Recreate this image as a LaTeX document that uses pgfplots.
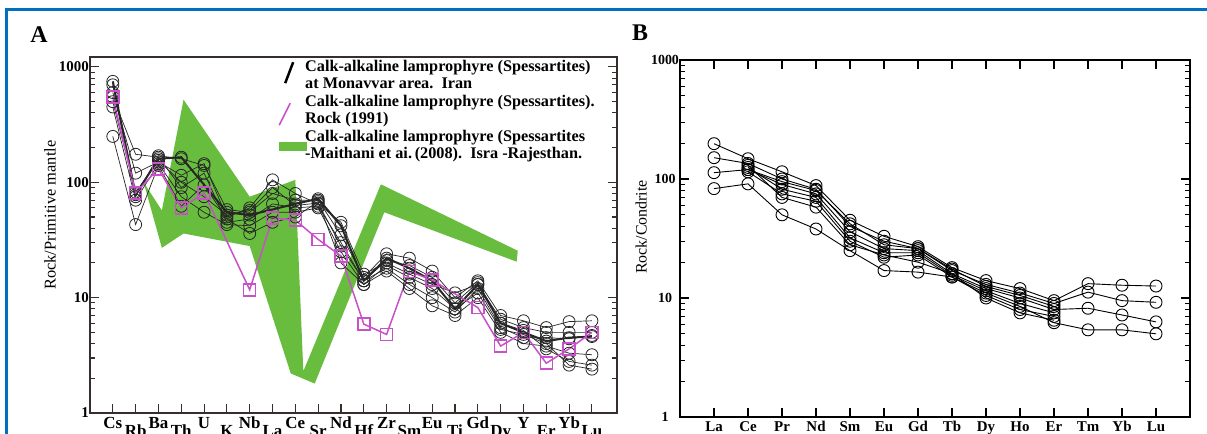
\documentclass[border=0pt]{standalone}
\usepackage{fontspec}
\setmainfont{Liberation Serif}
\usepackage{pgfplots}
\pgfplotsset{compat=1.18}
\definecolor{frameblue}{RGB}{0,112,192}
\definecolor{bandgreen}{RGB}{104,189,62}
\definecolor{rockmag}{RGB}{200,80,200}
\definecolor{axgray}{RGB}{55,45,45}
\begin{document}
\begin{tikzpicture}[x=1bp,y=1bp]
\useasboundingbox (0,0) rectangle (1207,434);
\clip (0,0) rectangle (1207,434);
\fill[white] (0,0) rectangle (1207,434);
\draw[frameblue, line width=3bp] (6,0) -- (6,424) -- (1210,424);
\node[font=\fontsize{24}{24}\selectfont\bfseries] at (39,399) {A};
\node[font=\fontsize{24}{24}\selectfont\bfseries] at (640,401) {B};

% ---------------- Panel A ----------------
\begin{axis}[
  at={(90bp,21bp)}, anchor=south west, scale only axis,
  width=527bp, height=356bp,
  ymode=log, ymin=1, ymax=1220, xmin=-1, xmax=22.1,
  xtick={0,...,21},
  xticklabels={Cs,\raisebox{-8bp}{Rb},Ba,\raisebox{-8bp}{Th},U,\raisebox{-8bp}{K},Nb,\raisebox{-8bp}{La},Ce,\raisebox{-8bp}{Sr},Nd,\raisebox{-8bp}{Hf},Zr,\raisebox{-8bp}{Sm},Eu,\raisebox{-8bp}{Ti},Gd,\raisebox{-8bp}{Dy},Y,\raisebox{-8bp}{Er},Yb,\raisebox{-8bp}{Lu}},
  xtick pos=bottom,
  ytick={1,10,100,1000}, yticklabels={1,10,100,1000},
  tick align=inside, major tick length=9bp, minor tick length=5bp,
  axis line style={axgray, line width=1.8bp},
  every tick/.style={axgray, line width=1.1bp},
  xticklabel style={font=\fontsize{17}{17}\selectfont\bfseries, anchor=base, yshift=-16bp, inner sep=0pt},
  yticklabel style={font=\fontsize{15}{15}\selectfont\bfseries, inner xsep=1bp},
  ylabel={Rock/Primitive mantle},
  ylabel style={at={(axis description cs:-0.076,0.556)}, anchor=center, font=\fontsize{16.5}{16.5}\selectfont},
  legend style={at={(axis description cs:0.3586,0.9937)}, anchor=north west, draw=none, fill=none,
    inner sep=0pt, row sep=0pt, column sep=0pt,
    nodes={inner sep=0pt, text height=12bp, text depth=5.5bp},
    font=\fontsize{16.3}{17.5}\selectfont\bfseries},
  legend cell align=left,
]
\addlegendimage{legend image code/.code={\path[draw=none,fill=none] (0,-8.75bp) -- (26bp,8.75bp); \draw[overlay, black, line width=2.5bp] (6bp,-15bp) -- (14bp,6bp);}}
\addlegendentry{Calk-alkaline lamprophyre (Spessartites)}
\addlegendimage{legend image code/.code={\path[draw=none,fill=none] (0,-8.75bp) -- (26bp,8.75bp);}}
\addlegendentry{at Monavvar area.\ \ Iran}
\addlegendimage{legend image code/.code={\path[draw=none,fill=none] (0,-8.75bp) -- (26bp,8.75bp); \draw[overlay, rockmag, line width=1.6bp] (0bp,-22bp) -- (11bp,0bp);}}
\addlegendentry{Calk-alkaline lamprophyre (Spessartites).}
\addlegendimage{legend image code/.code={\path[draw=none,fill=none] (0,-8.75bp) -- (26bp,8.75bp);}}
\addlegendentry{Rock (1991)}
\addlegendimage{legend image code/.code={\path[draw=none,fill=none] (0,-8.75bp) -- (26bp,8.75bp); \fill[overlay, bandgreen, draw=none] (0bp,-4bp) rectangle (28bp,-13bp);}}
\addlegendentry{Calk-alkaline lamprophyre (Spessartites}
\addlegendimage{legend image code/.code={\path[draw=none,fill=none] (0,-8.75bp) -- (26bp,8.75bp);}}
\addlegendentry{-Maithani et ai.\,(2008).\ \ Isra -Rajesthan.}

% green band (Maithani et al. 2008)
\addplot[fill=bandgreen, draw=none, forget plot] coordinates {
 (1.35,100) (2.15,57) (3.1,520) (6.0,75) (8.0,105) (8.35,2.3) (11.75,96) (17.75,25.5)
 (17.7,20.5) (11.9,55) (8.85,1.8) (7.8,2.2) (6.0,28) (3.1,36) (2.15,27)
} -- cycle;

% Monavvar samples
\pgfplotsset{blk/.style={black!85, line width=0.7bp, mark=o, mark size=6bp, mark options={line width=0.8bp, solid}, forget plot}}
\addplot[blk, line width=2bp] coordinates {(0,750)(1,78)(2,160)(3,165)(5,55)(6,52)(8,65)(9,72)(10,42)(11,14)(12,22)(13,18)(14,14)(15,8)(16,13)(17,6)(18,5)(19,4.2)(20,4.5)(21,4.6)};
\addplot[blk] coordinates {(0,700)(1,75)(2,170)(3,160)(4,140)(5,58)(6,55)(7,80)(8,70)(9,70)(10,35)(11,15)(12,24)(13,22)(14,17)(15,10)(16,14)(17,7)(18,6.3)(19,5.5)(20,6.2)(21,6.3)};
\addplot[blk] coordinates {(0,600)(1,120)(2,150)(3,115)(4,145)(5,50)(6,60)(7,105)(8,80)(9,65)(10,45)(11,16)(12,20)(13,16)(14,13)(15,11)(16,13)(17,6.5)(18,5.5)(19,5)(20,5)(21,5)};
\addplot[blk] coordinates {(0,550)(1,175)(2,165)(3,90)(4,120)(5,45)(6,48)(7,65)(8,60)(9,62)(10,30)(11,14)(12,18)(13,13)(14,10)(15,7.5)(16,12)(17,5.5)(18,4.5)(19,4.5)(20,4.4)(21,4.7)};
\addplot[blk] coordinates {(0,450)(1,70)(2,145)(3,75)(4,55)(5,43)(6,42)(7,55)(8,55)(9,60)(10,25)(11,13)(12,17)(13,12)(14,8.5)(15,7)(16,10)(17,5)(18,4)(19,3.8)(20,3.3)(21,3.2)};
\addplot[blk] coordinates {(0,250)(1,43)(2,140)(3,62)(4,95)(5,48)(6,36)(7,45)(8,50)(9,68)(10,20)(11,13)(12,19)(13,15)(14,12)(15,8)(16,11)(17,5.3)(18,4.8)(19,4)(20,2.6)(21,2.4)};
\addplot[blk] coordinates {(0,500)(1,82)(2,155)(3,100)(4,75)(5,52)(6,57)(7,90)(8,63)(9,66)(10,28)(11,14)(12,21)(13,19)(14,15)(15,9)(16,13.5)(17,6)(18,5.2)(19,3.6)(20,2.8)(21,2.6)};

% Rock (1991)
\addplot[rockmag, line width=1.5bp, mark=square, mark size=6bp, mark options={line width=1.5bp, solid}, forget plot] coordinates {
 (0,550)(1,81)(2,131)(3,60)(4,81)(6,11.7)(7,49)(8,47)(9,32)(10,23)(11,5.9)(12,4.8)(13,16.9)(14,14.2)(16,8.2)(17,3.8)(18,5.0)(19,2.7)(20,3.6)(21,5.0)};
\end{axis}

% ---------------- Panel B ----------------
\begin{axis}[
  at={(680bp,17bp)}, anchor=south west, scale only axis,
  width=510bp, height=357bp,
  ymode=log, ymin=1, ymax=1000, xmin=-1, xmax=14,
  xtick={0,...,13},
  xticklabels={La,Ce,Pr,Nd,Sm,Eu,Gd,Tb,Dy,Ho,Er,Tm,Yb,Lu},
  ytick={1,10,100,1000}, yticklabels={1,10,100,1000},
  tick align=inside, major tick length=9bp, minor tick length=5bp,
  axis line style={black, line width=1.8bp},
  every tick/.style={black, line width=1.1bp},
  xticklabel style={font=\fontsize{15}{15}\selectfont\bfseries, anchor=base, yshift=-15bp, inner sep=0pt},
  yticklabel style={font=\fontsize{14}{14}\selectfont\bfseries, anchor=center, xshift=-15bp},
  ylabel={Rock/Condrite},
  ylabel style={at={(axis description cs:-0.076,0.532)}, anchor=center, font=\fontsize{16}{16}\selectfont},
]
\pgfplotsset{ree/.style={black, line width=0.9bp, mark=o, mark size=6bp, mark options={line width=0.9bp, solid}}}
\addplot[ree] coordinates {(0,198)(1,148)(2,115)(3,88)(4,45)(5,33)(6,27)(7,18)(8,14)(9,12)(10,9.5)(11,13.2)(12,12.8)(13,12.6)};
\addplot[ree] coordinates {(0,151)(1,135)(2,100)(3,82)(4,40)(5,30)(6,26)(7,17)(8,13)(9,11)(10,9)(11,11.2)(12,9.5)(13,9.2)};
\addplot[ree] coordinates {(0,113)(1,120)(2,90)(3,75)(4,36)(5,26)(6,25)(7,16)(8,12)(9,10)(10,8)(11,8.2)(12,7.2)(13,6.3)};
\addplot[ree] coordinates {(0,83)(1,91)(2,50)(3,38)(4,25)(5,17)(6,16.5)(7,15)(8,11)(9,8.5)(10,6.2)(11,5.4)(12,5.4)(13,5.0)};
\addplot[ree] coordinates {(1,125)(2,82)(3,70)(4,32)(5,24)(6,24)(7,15.5)(8,11.5)(9,9)(10,7.5)};
\addplot[ree] coordinates {(1,115)(2,75)(3,65)(4,30)(5,22)(6,23)(7,15)(8,10.5)(9,8)(10,7)};
\addplot[ree] coordinates {(1,130)(2,70)(3,58)(4,28)(5,23)(6,20)(7,16)(8,10)(9,7.5)(10,6.5)};
\addplot[ree] coordinates {(1,120)(2,95)(3,80)(4,42)(5,28)(6,26)(7,17.5)(8,12.5)(9,10.5)(10,8.5)};
\end{axis}
\end{tikzpicture}
\end{document}
